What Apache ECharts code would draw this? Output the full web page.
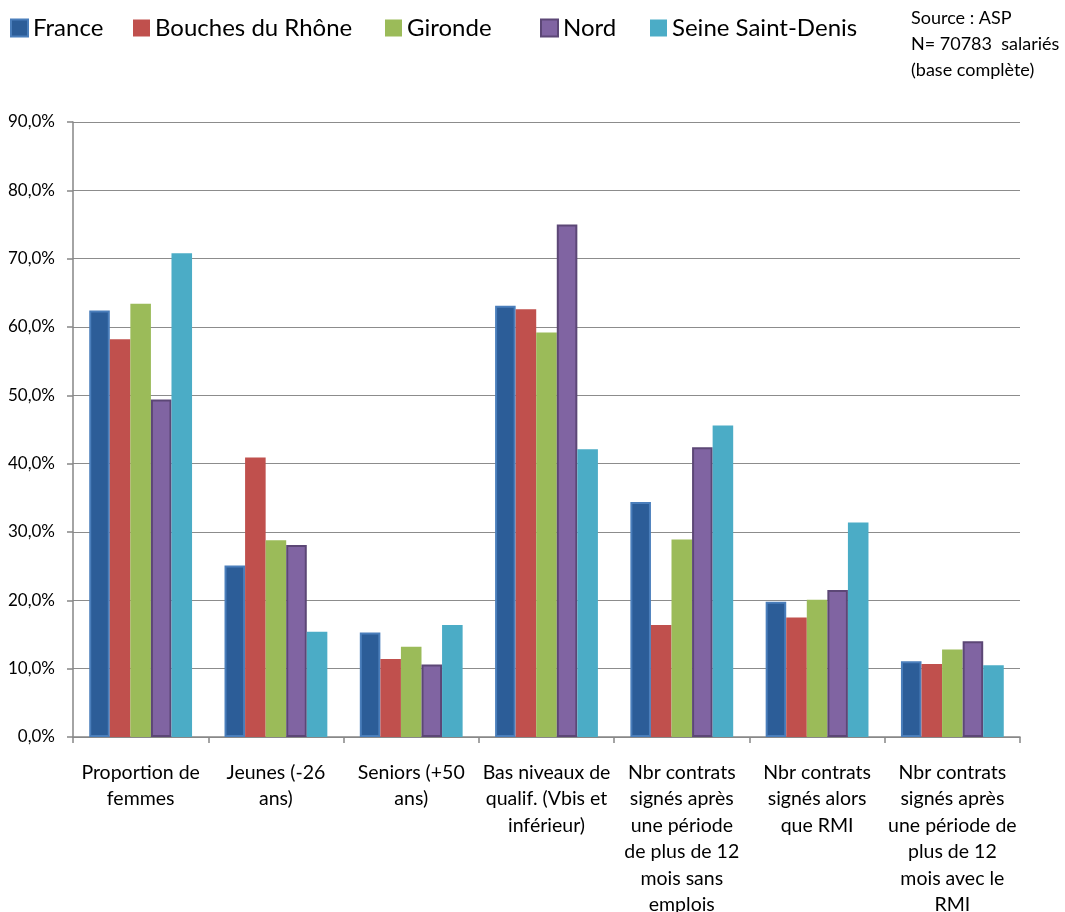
<!DOCTYPE html>
<html>
<head>
<meta charset="utf-8">
<script src="https://cdn.jsdelivr.net/npm/echarts@6/dist/echarts.min.js"></script>
<style>
  html, body { margin: 0; padding: 0; background: #fff; }
  #chart { width: 1065px; height: 912px; }
</style>
</head>
<body>
<div id="chart"></div>
<script>
var dom = document.getElementById("chart");
var myChart = echarts.init(dom);

var categories = [
    'Proportion de\nfemmes',
    'Jeunes (-26\nans)',
    'Seniors (+50\nans)',
    'Bas niveaux de\nqualif. (Vbis et\ninférieur)',
    'Nbr contrats\nsignés après\nune période\nde plus de 12\nmois sans\nemplois',
    'Nbr contrats\nsignés alors\nque RMI',
    'Nbr contrats\nsignés après\nune période de\nplus de 12\nmois avec le\nRMI'
];

var france = [62.4, 25.1, 15.3, 63.1, 34.4, 19.8, 11.1];
var bouches = [58.2, 40.9, 11.4, 62.6, 16.4, 17.5, 10.7];
var gironde = [63.4, 28.8, 13.2, 59.2, 28.9, 20.1, 12.8];
var nord = [49.4, 28.1, 10.6, 75.0, 42.4, 21.5, 14.0];
var seine = [70.8, 15.4, 16.4, 42.1, 45.6, 31.4, 10.5];

var seriesNames = ['France', 'Bouches du Rhône', 'Gironde', 'Nord', 'Seine Saint-Denis'];
var legendLeft = [5, 128, 380, 535, 645];

var font = 'Lato, "Open Sans", sans-serif';

function bar(name, data, color, border) {
    return {
        name: name,
        type: 'bar',
        data: data,
        barGap: '0%',
        barCategoryGap: '24%',
        itemStyle: {
            color: color,
            borderColor: border || color,
            borderWidth: border ? 2 : 0
        }
    };
}

var legends = seriesNames.map(function (n, i) {
    return {
        data: [n],
        left: legendLeft[i],
        top: 11,
        itemWidth: 17,
        itemHeight: 17,
        icon: 'rect',
        textStyle: { fontSize: 24, color: '#000', fontFamily: font }
    };
});

var option = {
    textStyle: { fontFamily: font },
    legend: legends,
    graphic: [{
        type: 'text',
        left: 911,
        top: 5,
        style: {
            text: 'Source : ASP\nN= 70783  salariés\n(base complète)',
            fontSize: 18,
            lineHeight: 26,
            fill: '#000',
            fontFamily: font
        }
    }],
    grid: {
        left: 73,
        right: 45,
        top: 122,
        bottom: 175,
        containLabel: false,
        outerBoundsMode: 'none'
    },
    xAxis: {
        type: 'category',
        data: categories,
        axisLine: { lineStyle: { color: '#868686', width: 1.5 } },
        axisTick: { show: true, length: 6, lineStyle: { color: '#868686', width: 1.5 } },
        axisLabel: {
            interval: 0,
            fontSize: 19.5,
            lineHeight: 26.5,
            color: '#000',
            margin: 22,
            align: 'center',
            fontFamily: font
        }
    },
    yAxis: {
        type: 'value',
        min: 0,
        max: 90,
        interval: 10,
        axisLine: { show: true, lineStyle: { color: '#868686', width: 1.5 } },
        axisTick: { show: true, length: 6, lineStyle: { color: '#868686', width: 1.5 } },
        splitLine: { lineStyle: { color: '#8c8c8c', width: 1.2 } },
        axisLabel: {
            fontSize: 17,
            color: '#000',
            margin: 18,
            fontFamily: font,
            formatter: function (v) { return v.toFixed(1).replace('.', ',') + '%'; }
        }
    },
    series: [
        bar(seriesNames[0], france, '#2c5d98', '#4a7ebb'),
        bar(seriesNames[1], bouches, '#c0504d'),
        bar(seriesNames[2], gironde, '#9bbb59'),
        bar(seriesNames[3], nord, '#8064a2', '#5c4776'),
        bar(seriesNames[4], seine, '#4bacc6')
    ]
};

if (option && typeof option === 'object') {
    myChart.setOption(option);
}
</script>
</body>
</html>
